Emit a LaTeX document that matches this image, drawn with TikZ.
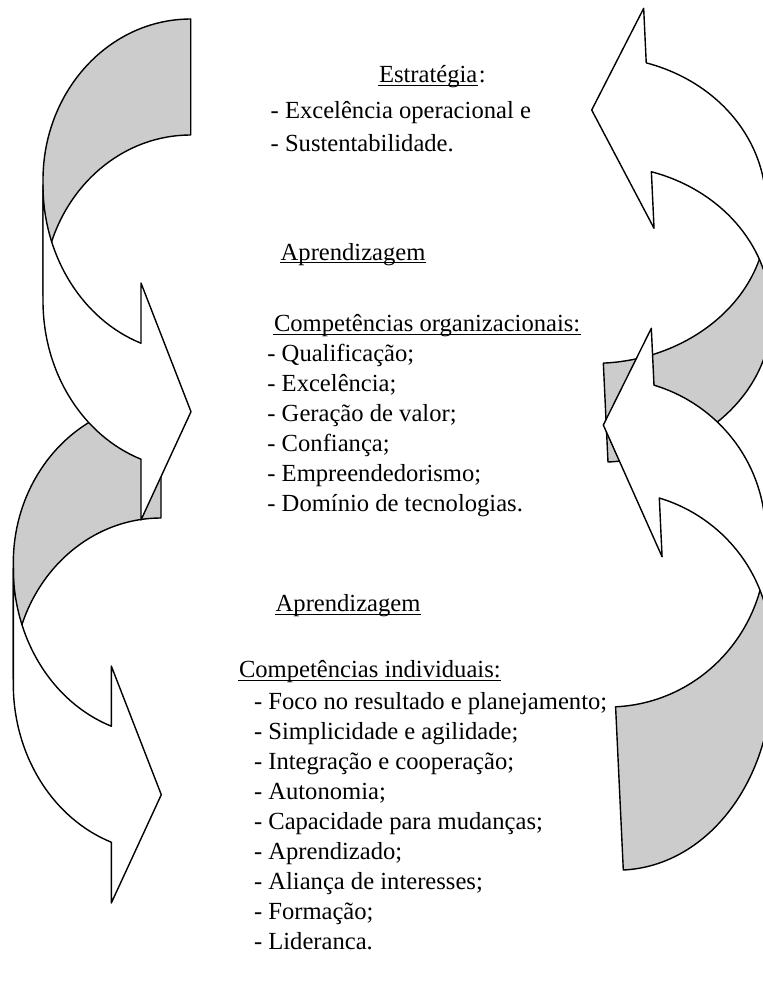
\documentclass[tikz,border=0pt]{standalone}
\usepackage{fontspec}
\setmainfont{Liberation Serif}
\usepackage{tikz}
\usetikzlibrary{positioning}
\definecolor{backgray}{gray}{0.8}

\begin{document}
\begin{tikzpicture}[x=0.5pt, y=-0.5pt, line width=0.7pt, line join=round]
			\tikzstyle{back}  = [draw, fill=backgray]
			\tikzstyle{front} = [draw, fill=white]
			\tikzstyle{txt}   = [anchor=base west, inner sep=0pt, font=\fontsize{12.3}{15}\selectfont]
			\tikzstyle{uline} = [line width=0.6pt]
			\useasboundingbox (0,0) rectangle (763,993);
			\clip (0,0) rectangle (763,993);
			%\draw[help lines] (0,0) grid[step=50] (763,993);

			% left arrows, lower one first
			\begin{scope}[shift={(161,402)}]
				\draw[back] (0,0) arc[start angle=270, end angle=180, x radius=147.7, y radius=161]
					-- (-147.7,277) arc[start angle=180, end angle=270, x radius=147.7, y radius=161] -- cycle;
				\draw[front] (-147.7,166) -- (-147.7,282) arc[start angle=180, end angle=109.66, x radius=147.7, y radius=168]
					-- (-49.7,501) -- (0.3,392.7) -- (-49.7,264) -- (-49.7,324.2)
					arc[start angle=109.66, end angle=180, x radius=147.7, y radius=168] -- cycle;
			\end{scope}
			\begin{scope}[shift={(190.7,19)}]
				\draw[back] (0,0) arc[start angle=270, end angle=180, x radius=147.7, y radius=161]
					-- (-147.7,277) arc[start angle=180, end angle=270, x radius=147.7, y radius=161] -- cycle;
				\draw[front] (-147.7,166) -- (-147.7,282) arc[start angle=180, end angle=109.66, x radius=147.7, y radius=168]
					-- (-49.7,501) -- (0.3,392.7) -- (-49.7,264) -- (-49.7,324.2)
					arc[start angle=109.66, end angle=180, x radius=147.7, y radius=168] -- cycle;
			\end{scope}

			% right arrows, upper one first
			\begin{scope}[shift={(608,462)}, rotate=182.7]
				\draw[back] (0,0) arc[start angle=270, end angle=180, x radius=170, y radius=143]
					-- (-170,242) arc[start angle=180, end angle=270, x radius=170, y radius=143] -- cycle;
				\draw[front] (-170,146.6) -- (-170,255.6) arc[start angle=180, end angle=109.59, x radius=170, y radius=150]
					-- (-57,451.5) -- (-0.3,352.4) -- (-57,231.3) -- (-57,287.9)
					arc[start angle=109.59, end angle=180, x radius=170, y radius=150] -- cycle;
			\end{scope}
			\begin{scope}[shift={(623.3,870)}, rotate=182.7]
				\draw[back] (0,0) arc[start angle=270, end angle=180, x radius=158, y radius=197]
					-- (-158,324.4) arc[start angle=180, end angle=270, x radius=158, y radius=161] -- cycle;
				\draw[front] (-158,223.4) -- (-158,336.4) arc[start angle=180, end angle=109.79, x radius=158, y radius=155.7]
					-- (-53.5,539.8) -- (-1,445.4) -- (-53.5,311.1) -- (-53.5,369.9)
					arc[start angle=109.79, end angle=180, x radius=158, y radius=155.7] -- cycle;
			\end{scope}

			% texts
			\node[txt] (e0) at (378.3,82.7) {Estratégia};
			\node[txt] (e0c) at (e0.base east) {:};
			\node[txt] (e1) at (270,118.5) {- Excelência operacional e};
			\node[txt] (e2) at (270,151.7) {- Sustentabilidade.};

			\node[txt] (a1) at (280,260) {Aprendizagem};

			\node[txt] (o0) at (273.3,331.7) {Competências organizacionais:};
			\node[txt] (o1) at (266.7,361.7) {- Qualificação;};
			\node[txt] (o2) at (266.7,391.7) {- Excelência;};
			\node[txt] (o3) at (266.7,421.7) {- Geração de valor;};
			\node[txt] (o4) at (266.7,451.7) {- Confiança;};
			\node[txt] (o5) at (266.7,481.7) {- Empreendedorismo;};
			\node[txt] (o6) at (266.7,511.7) {- Domínio de tecnologias.};

			\node[txt] (a2) at (275,611.7) {Aprendizagem};

			\node[txt] (i0) at (238.3,677.5) {Competências individuais:};
			\node[txt] (i1) at (253.3,709.5) {- Foco no resultado e planejamento;};
			\node[txt] (i2) at (253.3,739.5) {- Simplicidade e agilidade;};
			\node[txt] (i3) at (253.3,769.5) {- Integração e cooperação;};
			\node[txt] (i4) at (253.3,799.5) {- Autonomia;};
			\node[txt] (i5) at (253.3,829.5) {- Capacidade para mudanças;};
			\node[txt] (i6) at (253.3,859.5) {- Aprendizado;};
			\node[txt] (i7) at (253.3,889.5) {- Aliança de interesses;};
			\node[txt] (i8) at (253.3,919.5) {- Formação;};
			\node[txt] (i9) at (253.3,949.5) {- Lideranca.};

			% underlines
			\draw[uline] ([yshift=-1.4pt]e0.base west) -- ([yshift=-1.4pt]e0.base east);
			\draw[uline] ([yshift=-1.4pt]a1.base west) -- ([yshift=-1.4pt]a1.base east);
			\draw[uline] ([yshift=-1.4pt]o0.base west) -- ([yshift=-1.4pt]o0.base east);
			\draw[uline] ([yshift=-1.4pt]a2.base west) -- ([yshift=-1.4pt]a2.base east);
			\draw[uline] ([yshift=-1.4pt]i0.base west) -- ([yshift=-1.4pt]i0.base east);
		\end{tikzpicture}
\end{document}
